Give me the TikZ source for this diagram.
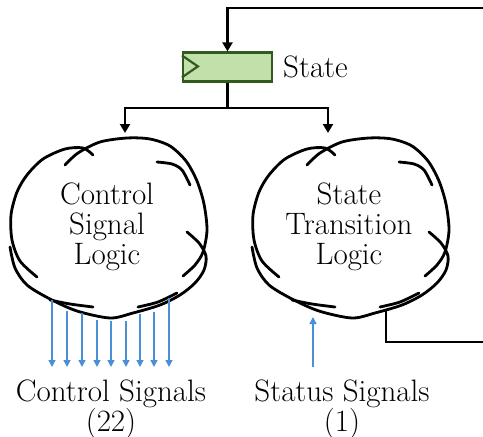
\documentclass[tikz,border=0pt]{standalone}
\usetikzlibrary{arrows.meta}
\definecolor{regfill}{RGB}{194,225,170}
\definecolor{regdraw}{RGB}{50,90,30}
\definecolor{sigblue}{RGB}{74,144,217}
\begin{document}
\begin{tikzpicture}[x=1pt,y=-1pt,
  wire/.style={line width=2.5pt, black},
  wirearrow/.style={wire, -{Triangle[length=9pt,width=10pt]}},
  sig/.style={line width=1.5pt, sigblue, -{Triangle[length=7pt,width=7pt]}},
  cloudline/.style={line width=2.8pt, line cap=round},
  lbl/.style={font=\fontsize{31}{30}\selectfont, inner sep=0pt, align=center},
  pics/cloudshape/.style={code={
    \draw[cloudline] plot[smooth] coordinates {(65,165) (78,153) (100,142) (127,138) (150,139) (170,146) (186,161) (197,181) (204,204) (207,230) (203,252) (195,265) (183,276)};
    \draw[cloudline] plot[smooth] coordinates {(187,232) (199,243) (206,256) (204,270) (195,283) (180,295) (160,305) (133,313) (110,318) (77,311) (50,299) (27,285) (15,268) (10,247)};
    \draw[cloudline] plot[smooth] coordinates {(37,277) (20,261) (12,240) (11,215) (17,192) (27,175) (43,159) (65,149) (83,148) (93,155)};
    \draw[cloudline] plot[smooth] coordinates {(157,162) (172,164) (182,170) (190,185)};
    \draw[cloudline] plot[smooth] coordinates {(50,300) (70,304) (93,307)};
    \draw[cloudline] plot[smooth] coordinates {(138,307) (158,302) (177,293)};
  }}]
\useasboundingbox (0,0) rectangle (483,437);

% register
\node[draw=regdraw, fill=regfill, line width=2.2pt, minimum width=89pt, minimum height=29pt, inner sep=0pt] (reg) at (227.5,67) {};
\draw[regdraw, line width=2.2pt] (reg.north west) ++(0,4) -- ++(16,11) -- ++(-16,11);
\node[lbl, anchor=base west] (statelbl) at (283,77) {State};

% feedback into register
\coordinate (fbR) at (484,8);
\draw[wirearrow] (fbR) -| (reg.north);

% split to clouds
\coordinate (split) at (227.5,108);
\coordinate (c1top) at (125,133);
\coordinate (c2top) at (328,133);
\draw[wire] (reg.south) -- (split);
\draw[wirearrow] (split) -| (c1top);
\draw[wirearrow] (split) -| (c2top);

% clouds
\pic at (0,0) {cloudshape};
\pic at (242,0) {cloudshape};
\node[lbl, anchor=base] (csl) at (107,264) {Control\\Signal\\Logic};
\node[lbl, anchor=base] (stl) at (349,264) {State\\Transition\\Logic};

% feedback out
\coordinate (fbout) at (386,311);
\coordinate (fbend) at (484,342);
\draw[wire] (fbout) |- (fbend);

% control signals
\foreach \xx/\yy [count=\i] in {52/300, 67/311, 82/313, 97/320, 111/321, 126/321, 140/314, 154/312, 169/298} {
  \coordinate (cs\i) at (\xx,\yy);
  \coordinate (ce\i) at (\xx,367);
  \draw[sig] (cs\i) -- (ce\i);
}
% status signal
\coordinate (ss) at (313,367);
\coordinate (se) at (313,317);
\draw[sig] (ss) -- (se);

\node[lbl, anchor=base] (ctl) at (111,431) {Control Signals\\(22)};
\node[lbl, anchor=base] (sts) at (342,431) {Status Signals\\(1)};
\end{tikzpicture}
\end{document}
